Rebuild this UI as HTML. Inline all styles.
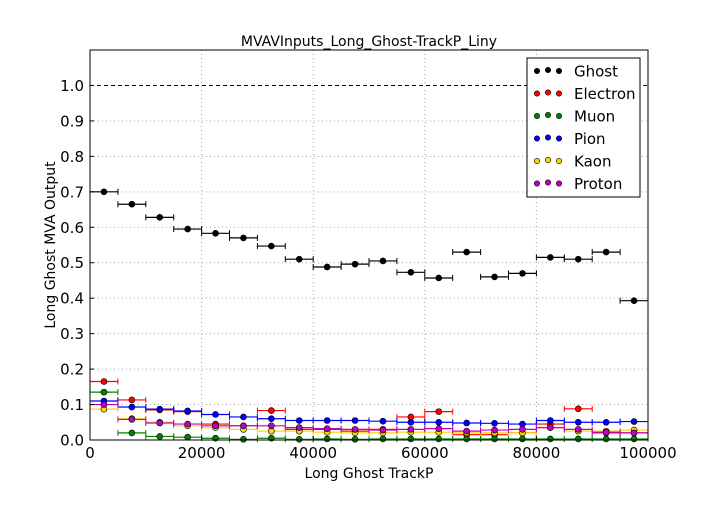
<!DOCTYPE html>
<html><head><meta charset="utf-8"><style>
body{margin:0;background:#fff;}
svg{font-family:"DejaVu Sans","Liberation Sans",sans-serif;}
</style></head><body>
<svg id="chart" width="720" height="504" viewBox="0 0 720 504" xmlns="http://www.w3.org/2000/svg">
<rect width="720" height="504" fill="#fff"/>
<g id="grid"></g>
<g id="series"></g>
<rect x="90" y="50" width="558" height="390" fill="none" stroke="#000" stroke-width="1"/>
<g id="axes"></g>
<text x="369" y="46" text-anchor="middle" font-size="14">MVAVInputs_Long_Ghost-TrackP_Liny</text>
<text x="369" y="478" text-anchor="middle" font-size="14">Long Ghost TrackP</text>
<text x="55" y="245" text-anchor="middle" font-size="14" transform="rotate(-90 55 245)">Long Ghost MVA Output</text>
<g id="legend"></g>
</svg>
<script>
const binCenters=[2500,7500,12500,17500,22500,27500,32500,37500,42500,47500,52500,57500,62500,67500,72500,77500,82500,87500,92500,97500];
const seriesNames=["Ghost","Electron","Muon","Pion","Kaon","Proton"];
const seriesColors=["#000000","#ff0000","#008000","#0000ff","#ffd700","#bf00bf"];
const ghost=[0.70,0.665,0.628,0.595,0.583,0.57,0.547,0.51,0.488,0.496,0.505,0.473,0.457,0.53,0.46,0.47,0.515,0.51,0.53,0.393];
const electron=[0.165,0.113,0.085,0.08,0.045,0.04,0.083,0.03,0.03,0.025,0.03,0.065,0.08,0.015,0.015,0.02,0.045,0.088,0.02,0.02];
const muon=[0.135,0.02,0.01,0.008,0.005,0.002,0.005,0.002,0.003,0.002,0.003,0.003,0.003,0.003,0.003,0.003,0.003,0.003,0.003,0.003];
const pion=[0.11,0.093,0.087,0.082,0.072,0.065,0.06,0.055,0.055,0.055,0.053,0.05,0.05,0.048,0.047,0.045,0.055,0.05,0.05,0.052];
const kaon=[0.087,0.06,0.05,0.04,0.035,0.03,0.025,0.025,0.022,0.02,0.02,0.022,0.022,0.02,0.02,0.02,0.035,0.025,0.025,0.028];
const proton=[0.10,0.058,0.048,0.045,0.04,0.04,0.04,0.035,0.032,0.03,0.028,0.03,0.032,0.025,0.028,0.03,0.035,0.03,0.022,0.02];
const xTicks=[0,20000,40000,60000,80000,100000];
const yTicks=[0,0.1,0.2,0.3,0.4,0.5,0.6,0.7,0.8,0.9,1.0];
const binWidth=5000;

const NS="http://www.w3.org/2000/svg";
const X0=90,X1=648,Y0=440,Y1=50,XMAX=100000,YMAX=1.1;
const sx=v=>X0+(v/XMAX)*(X1-X0);
const sy=v=>Y0-(v/YMAX)*(Y0-Y1);
function mk(tag,attrs,parent){const e=document.createElementNS(NS,tag);for(const k in attrs)e.setAttribute(k,attrs[k]);parent.appendChild(e);return e;}
const grid=document.getElementById('grid'),axes=document.getElementById('axes'),ser=document.getElementById('series'),leg=document.getElementById('legend');

xTicks.forEach(t=>{
  const x=sx(t);
  if(t>0&&t<XMAX){const l=mk('line',{x1:x,x2:x,y1:Y1,y2:Y0,stroke:'#aaa','stroke-dasharray':'1,3'},grid);
  
  }
  const tk=mk('line',{x1:x,x2:x,y1:Y0,y2:Y0-4,stroke:'#000'},axes);
  
  
  const tx=mk('text',{x:x,y:Y0+18,'text-anchor':'middle','font-size':'15'},axes);
  tx.textContent=t;
  
  
});
yTicks.forEach(t=>{
  const y=sy(t);
  if(t>0){const l=mk('line',{x1:X0,x2:X1,y1:y,y2:y,stroke:t===1?'#000':'#aaa','stroke-dasharray':t===1?'4,3':'1,3'},grid);
  
  }
  const tk=mk('line',{x1:X0,x2:X0+4,y1:y,y2:y,stroke:'#000'},axes);
  
  
  const tx=mk('text',{x:X0-6,y:y+5.5,'text-anchor':'end','font-size':'15'},axes);
  tx.textContent=t.toFixed(1);
  
  
});

const allSeries=[ghost,electron,muon,pion,kaon,proton];
allSeries.forEach((vals,si)=>{
  const g=mk('g',{},ser);
  
  
  const c=seriesColors[si];
  vals.forEach((v,i)=>{
    const xc=binCenters[i],y=sy(v);
    const h=mk('line',{x1:sx(xc-binWidth/2),x2:sx(xc+binWidth/2),y1:y,y2:y,stroke:c,'stroke-width':1.2},g);
    
    
    [xc-binWidth/2,xc+binWidth/2].forEach(e=>{const cap=mk('line',{x1:sx(e),x2:sx(e),y1:y-3,y2:y+3,stroke:c},g);
    
    });
    const p=mk('circle',{cx:sx(xc),cy:y,r:3,fill:c,stroke:'#000','stroke-width':0.6},g);
    
    
  });
});

mk('rect',{x:527,y:58,width:113,height:139,fill:'#fff',stroke:'#000'},leg);
seriesNames.forEach((n,i)=>{
  const y=71+i*22.5;
  const e=mk('g',{},leg);
  
  
  [537,548,559].forEach((x,k)=>mk('circle',{cx:x,cy:y+(k===1?-1:0),r:2.7,fill:seriesColors[i],stroke:'#000','stroke-width':0.6},e));
  const t=mk('text',{x:574,y:y+5.5,'font-size':'15'},e);
  t.textContent=n;
});
</script>
</body></html>
